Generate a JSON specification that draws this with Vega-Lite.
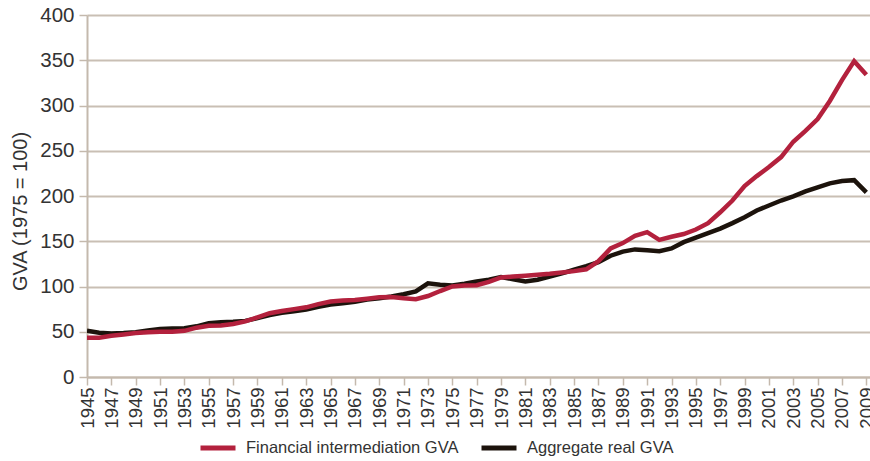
{
  "$schema": "https://vega.github.io/schema/vega-lite/v6.json",
  "autosize": "none",
  "width": 783,
  "height": 362,
  "padding": {"left": 87, "top": 15, "right": 0, "bottom": 84},
  "background": "white",
  "config": {
    "font": "Liberation Sans",
    "view": {"stroke": null}
  },
  "data": {
    "values": [
      {"year": 1945, "a": 51, "f": 43.5},
      {"year": 1946, "a": 49, "f": 43.5},
      {"year": 1947, "a": 48, "f": 45.5},
      {"year": 1948, "a": 48.5, "f": 47},
      {"year": 1949, "a": 49.5, "f": 48.5},
      {"year": 1950, "a": 51.5, "f": 49.5},
      {"year": 1951, "a": 53, "f": 50},
      {"year": 1952, "a": 53.5, "f": 50},
      {"year": 1953, "a": 54, "f": 51},
      {"year": 1954, "a": 56, "f": 54.5},
      {"year": 1955, "a": 59.5, "f": 56.5},
      {"year": 1956, "a": 60.5, "f": 57},
      {"year": 1957, "a": 61, "f": 58.5},
      {"year": 1958, "a": 62, "f": 61.5},
      {"year": 1959, "a": 65, "f": 66},
      {"year": 1960, "a": 68.5, "f": 70.5},
      {"year": 1961, "a": 71, "f": 73},
      {"year": 1962, "a": 72.5, "f": 75},
      {"year": 1963, "a": 74.5, "f": 77},
      {"year": 1964, "a": 77.5, "f": 80.5},
      {"year": 1965, "a": 80, "f": 83.5},
      {"year": 1966, "a": 81.5, "f": 84.5},
      {"year": 1967, "a": 83, "f": 85},
      {"year": 1968, "a": 85.5, "f": 86.5},
      {"year": 1969, "a": 87, "f": 88},
      {"year": 1970, "a": 89, "f": 88.5},
      {"year": 1971, "a": 91.5, "f": 87},
      {"year": 1972, "a": 94.5, "f": 86},
      {"year": 1973, "a": 103.5, "f": 89.5},
      {"year": 1974, "a": 102, "f": 95},
      {"year": 1975, "a": 101, "f": 100},
      {"year": 1976, "a": 103, "f": 101},
      {"year": 1977, "a": 105.5, "f": 101.5},
      {"year": 1978, "a": 107.5, "f": 105},
      {"year": 1979, "a": 110.5, "f": 110},
      {"year": 1980, "a": 108, "f": 111},
      {"year": 1981, "a": 105.5, "f": 112},
      {"year": 1982, "a": 107.5, "f": 113},
      {"year": 1983, "a": 111, "f": 114},
      {"year": 1984, "a": 114.5, "f": 115.5},
      {"year": 1985, "a": 118.5, "f": 117},
      {"year": 1986, "a": 122.5, "f": 119},
      {"year": 1987, "a": 127, "f": 128},
      {"year": 1988, "a": 134, "f": 142},
      {"year": 1989, "a": 138.5, "f": 148},
      {"year": 1990, "a": 141, "f": 156},
      {"year": 1991, "a": 140, "f": 160},
      {"year": 1992, "a": 139, "f": 151.5},
      {"year": 1993, "a": 142, "f": 155},
      {"year": 1994, "a": 149, "f": 158},
      {"year": 1995, "a": 154, "f": 163},
      {"year": 1996, "a": 159, "f": 170},
      {"year": 1997, "a": 164, "f": 182},
      {"year": 1998, "a": 170, "f": 195},
      {"year": 1999, "a": 176.5, "f": 211},
      {"year": 2000, "a": 184, "f": 222},
      {"year": 2001, "a": 189.5, "f": 232},
      {"year": 2002, "a": 195, "f": 243},
      {"year": 2003, "a": 199.5, "f": 260},
      {"year": 2004, "a": 205, "f": 272},
      {"year": 2005, "a": 209.5, "f": 285},
      {"year": 2006, "a": 214, "f": 305},
      {"year": 2007, "a": 216.5, "f": 328},
      {"year": 2008, "a": 217.5, "f": 349},
      {"year": 2009, "a": 204, "f": 334}
    ]
  },
  "transform": [
    {"fold": ["a", "f"], "as": ["key", "value"]},
    {"calculate": "datum.key == 'a' ? 'Aggregate real GVA' : 'Financial intermediation GVA'", "as": "series"}
  ],
  "mark": {"type": "line", "strokeWidth": 4.5, "clip": true},
  "encoding": {
    "x": {
      "field": "year",
      "type": "quantitative",
      "scale": {"domain": [1945, 2009.3], "nice": false, "zero": false},
      "axis": {
        "title": null,
        "values": [1945,1947,1949,1951,1953,1955,1957,1959,1961,1963,1965,1967,1969,1971,1973,1975,1977,1979,1981,1983,1985,1987,1989,1991,1993,1995,1997,1999,2001,2003,2005,2007,2009],
        "format": "d",
        "labelAngle": -90,
        "labelFontSize": 18.5,
        "labelColor": "#333333",
        "labelPadding": 2,
        "tickSize": 8,
        "tickColor": "#c4b9ad",
        "tickWidth": 1.5,
        "domainColor": "#c4b9ad",
        "domainWidth": 2,
        "grid": false,
        "labelFlush": false,
        "labelOverlap": false
      }
    },
    "y": {
      "field": "value",
      "type": "quantitative",
      "scale": {"domain": [0, 400], "nice": false},
      "axis": {
        "title": "GVA  (1975 = 100)",
        "titleFontSize": 20,
        "titleFontWeight": "normal",
        "titleColor": "#333333",
        "titlePadding": 9,
        "titleY": 196,
        "values": [0, 50, 100, 150, 200, 250, 300, 350, 400],
        "labelFontSize": 20.5,
        "labelColor": "#333333",
        "labelPadding": 5,
        "tickSize": 8,
        "tickColor": "#c4b9ad",
        "tickWidth": 1.5,
        "domainColor": "#c4b9ad",
        "domainWidth": 2,
        "grid": true,
        "gridColor": "#c9bfb4",
        "gridWidth": 2,
        "labelFlush": false
      }
    },
    "color": {
      "field": "series",
      "type": "nominal",
      "scale": {
        "domain": ["Financial intermediation GVA", "Aggregate real GVA"],
        "range": ["#b3213d", "#1c130c"]
      },
      "legend": {
        "title": null,
        "orient": "none",
        "direction": "horizontal",
        "legendX": 111,
        "legendY": 413,
        "symbolType": "stroke",
        "symbolSize": 1225,
        "symbolStrokeWidth": 5,
        "labelFontSize": 16.5,
        "labelColor": "#333333",
        "labelOffset": 8,
        "columnPadding": 12,
        "labelLimit": 400
      }
    },
    "order": {"field": "key", "sort": "ascending"}
  }
}
